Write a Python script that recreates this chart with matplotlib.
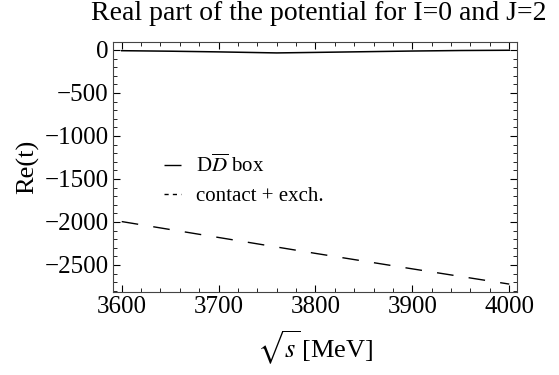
import numpy as np
import matplotlib
matplotlib.use("Agg")
import matplotlib.pyplot as plt
from matplotlib.ticker import MultipleLocator

# sqrt(s) in MeV
energy = [3600, 3650, 3700, 3750, 3760, 3800, 3850, 3900, 3950, 4000]
# contact + exch. (solid, near zero)
contact = [-8, -14, -22, -32, -34, -28, -20, -12, -6, -3]
# box contribution (long dashes)
box_energy = [3600, 3700, 3800, 3900, 4000]
box = [-1995, -2180, -2365, -2545, -2722]

plt.rcParams["font.family"] = ["Liberation Serif", "DejaVu Serif"]
plt.rcParams["mathtext.fontset"] = "stix"

fig = plt.figure(figsize=(5.59, 3.75), dpi=100)
ax = fig.add_axes([113 / 559, 1 - 292 / 375, (517 - 113) / 559, (292 - 42) / 375])

ax.plot(energy, contact, color="black", lw=1.1)
ax.plot(box_energy, box, color="black", lw=1.0, dashes=(12, 11))

# legend handles as in the original (styles swapped vs the curves)
ax.plot([], [], color="black", lw=1.0, dashes=(10, 0), label=r"D$\overline{D}$ box")
ax.plot([], [], color="black", lw=1.0, dashes=(3, 3), label="contact + exch.")
ax.legend(loc="upper left", bbox_to_anchor=(0.08, 0.625), frameon=False,
          fontsize=15, handlelength=0.8, handletextpad=0.75, labelspacing=0.45)

ax.set_xlim(3591, 4008)
ax.set_ylim(-2814, 93)
ax.xaxis.set_major_locator(MultipleLocator(100))
ax.xaxis.set_minor_locator(MultipleLocator(20))
ax.yaxis.set_major_locator(MultipleLocator(500))
ax.yaxis.set_minor_locator(MultipleLocator(100))
ax.tick_params(which="both", direction="in", top=True, right=True, labelsize=18, pad=3)
ax.tick_params(which="major", length=5, width=0.8)
ax.tick_params(which="minor", length=3, width=0.6)
ax.yaxis.set_major_formatter(plt.FuncFormatter(lambda v, p: f"{int(v)}".replace("-", "\u2212")))
for s in ax.spines.values():
    s.set_color("#444444")

ax.set_title("Real part of the potential for I=0 and J=2", fontsize=20, pad=16, x=0.51)
ax.set_ylabel("Re(t)", fontsize=19, labelpad=4)
ax.set_xlabel(r"$\sqrt{s}\,$[MeV]", fontsize=19, labelpad=8)

fig.savefig("out.png", dpi=100)
